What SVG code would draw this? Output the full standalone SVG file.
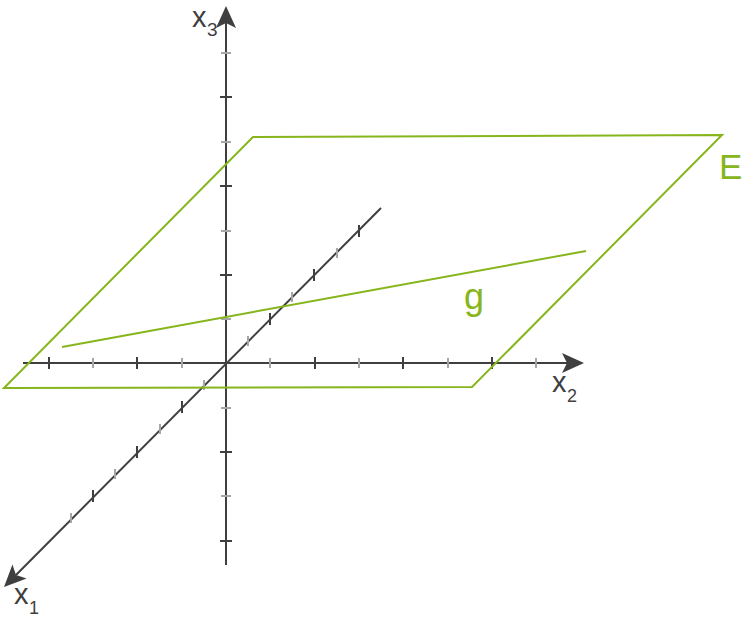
<svg xmlns="http://www.w3.org/2000/svg" width="743" height="621" viewBox="0 0 743 621">
<style>
.axis{stroke:#3f3f3f;stroke-width:2;fill:none}
.tk{stroke:#3f3f3f;stroke-width:2}
.tg{stroke:#a6a6a6;stroke-width:2}
.green{stroke:#86b51c;stroke-width:2;fill:none}
.lbl{font-family:"Liberation Sans",Arial,sans-serif;fill:#3f3f3f}
.glbl{font-family:"Liberation Sans",Arial,sans-serif;fill:#86b51c}
</style>
<defs>
<marker id="arr" viewBox="-1 -11 24 22" markerWidth="24" markerHeight="22" refX="5" refY="0" orient="auto" markerUnits="userSpaceOnUse">
<path d="M0,-10 L22,0 L0,10 L5,0 Z" fill="#3f3f3f"/>
</marker>
</defs>
<rect width="743" height="621" fill="#ffffff"/>
<g id="connectors">
<line id="axis-x3" class="axis" x1="226" y1="565" x2="226" y2="23" marker-end="url(#arr)"/>
<line id="axis-x2" class="axis" x1="23" y1="363" x2="567" y2="363" marker-end="url(#arr)"/>
<line id="axis-x1" class="axis" x1="381" y1="208" x2="16" y2="575" marker-end="url(#arr)"/>
</g>
<g id="ticks-x2">
<line class="tk" x1="49" y1="357" x2="49" y2="369"/>
<line class="tg" x1="93" y1="358" x2="93" y2="368"/>
<line class="tk" x1="137" y1="357" x2="137" y2="369"/>
<line class="tg" x1="182" y1="358" x2="182" y2="368"/>
<line class="tg" x1="270" y1="358" x2="270" y2="368"/>
<line class="tk" x1="315" y1="357" x2="315" y2="369"/>
<line class="tg" x1="359" y1="358" x2="359" y2="368"/>
<line class="tk" x1="403" y1="357" x2="403" y2="369"/>
<line class="tg" x1="448" y1="358" x2="448" y2="368"/>
<line class="tk" x1="492" y1="357" x2="492" y2="369"/>
<line class="tg" x1="536" y1="358" x2="536" y2="368"/>
</g>
<g id="ticks-x3">
<line class="tg" x1="221" y1="53" x2="231" y2="53"/>
<line class="tk" x1="220" y1="97" x2="232" y2="97"/>
<line class="tg" x1="221" y1="142" x2="231" y2="142"/>
<line class="tk" x1="220" y1="186" x2="232" y2="186"/>
<line class="tg" x1="221" y1="231" x2="231" y2="231"/>
<line class="tk" x1="220" y1="275" x2="232" y2="275"/>
<line class="tg" x1="221" y1="319" x2="231" y2="319"/>
<line class="tg" x1="221" y1="408" x2="231" y2="408"/>
<line class="tk" x1="220" y1="452" x2="232" y2="452"/>
<line class="tg" x1="221" y1="496" x2="231" y2="496"/>
<line class="tk" x1="220" y1="541" x2="232" y2="541"/>
</g>
<g id="ticks-x1">
<line class="tg" x1="248" y1="336" x2="248" y2="346"/>
<line class="tk" x1="270" y1="313" x2="270" y2="325"/>
<line class="tg" x1="292" y1="292" x2="292" y2="302"/>
<line class="tk" x1="314" y1="269" x2="314" y2="281"/>
<line class="tg" x1="337" y1="248" x2="337" y2="258"/>
<line class="tk" x1="359" y1="225" x2="359" y2="237"/>
<line class="tg" x1="204" y1="380" x2="204" y2="390"/>
<line class="tk" x1="182" y1="401" x2="182" y2="413"/>
<line class="tg" x1="160" y1="424" x2="160" y2="434"/>
<line class="tk" x1="137" y1="446" x2="137" y2="458"/>
<line class="tg" x1="115" y1="469" x2="115" y2="479"/>
<line class="tk" x1="93" y1="490" x2="93" y2="502"/>
<line class="tg" x1="71" y1="513" x2="71" y2="523"/>
</g>
<g id="plane-E">
<polygon class="green" points="253,137 722,135 472,387 4,388"/>
<text class="glbl" x="719" y="179" font-size="35">E</text>
</g>
<g id="line-g">
<line class="green" x1="62" y1="347" x2="586" y2="251"/>
<text class="glbl" x="464" y="309" font-size="36">g</text>
</g>
<g id="label-x3">
<text class="lbl" x="192" y="27" font-size="29">x</text>
<text class="lbl" x="207" y="36" font-size="19">3</text>
</g>
<g id="label-x2">
<text class="lbl" x="552" y="392" font-size="29">x</text>
<text class="lbl" x="567" y="402" font-size="18">2</text>
</g>
<g id="label-x1">
<text class="lbl" x="14" y="604" font-size="29">x</text>
<text class="lbl" x="29" y="614" font-size="18">1</text>
</g>
</svg>
